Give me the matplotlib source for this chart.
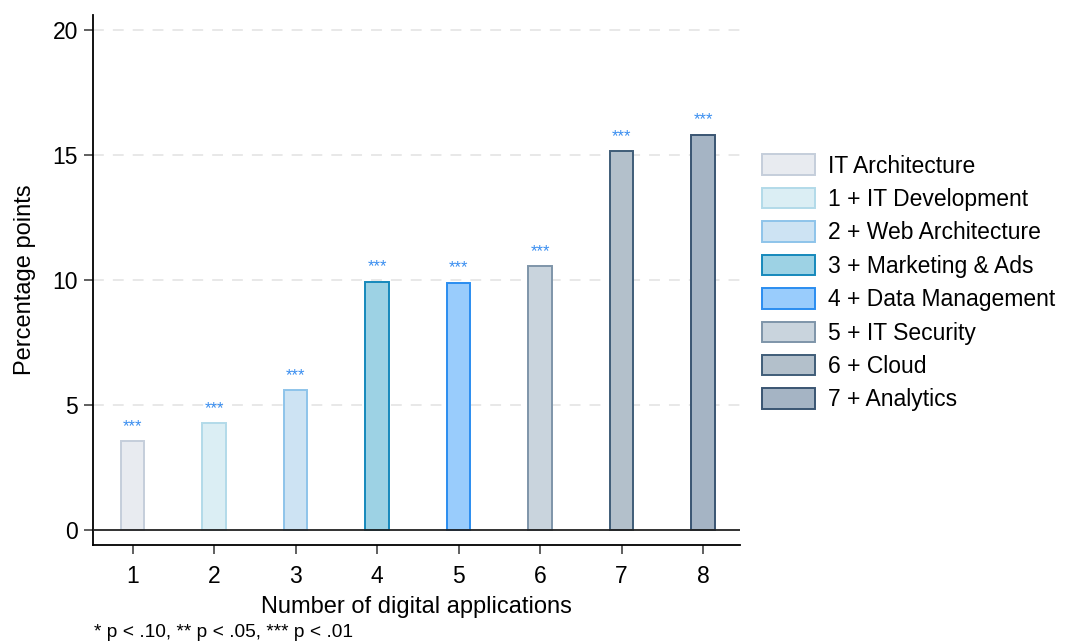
import numpy as np
import matplotlib.pyplot as plt
from matplotlib.patches import Patch

plt.rcParams['font.family'] = ['Liberation Sans', 'DejaVu Sans']

n_apps = [1, 2, 3, 4, 5, 6, 7, 8]
effect = [3.55, 4.27, 5.59, 9.92, 9.88, 10.55, 15.15, 15.80]
stars = ['***'] * 8
labels = ['IT Architecture', '1 + IT Development', '2 + Web Architecture',
          '3 + Marketing & Ads', '4 + Data Management', '5 + IT Security',
          '6 + Cloud', '7 + Analytics']
fills = ['#e8ebf0', '#dbeef4', '#cde3f3', '#9dd2e4', '#99ccfc', '#c9d4dd', '#b3c0cb', '#a5b4c4']
edges = ['#c5cedb', '#b2dae9', '#8ec4ea', '#1689bb', '#2a8df0', '#7e95a9', '#3f5d78', '#3a5572']

fig = plt.figure(figsize=(10.69, 6.44), dpi=100)
ax = fig.add_axes([0.0867, 0.1537, 0.6053, 0.823])

ax.bar(n_apps, effect, width=0.29, color=fills, edgecolor=edges, linewidth=1.4, zorder=3)
for x, v, s in zip(n_apps, effect, stars):
    ax.text(x, v + 0.3, s, ha='center', va='bottom', fontsize=12, color='#3a8ef0', zorder=4)

ax.axhline(0, color='#222222', linewidth=1.3, zorder=4)
ax.set_xlim(0.51, 8.45)
ax.set_ylim(-0.6, 20.6)
ax.set_yticks([0, 5, 10, 15, 20])
ax.set_xticks(n_apps)
for yv in [5, 10, 15, 20]:
    ax.axhline(yv, color='#e6e6e6', linewidth=1.3, dashes=(6, 5), zorder=1)

ax.spines['top'].set_visible(False)
ax.spines['right'].set_visible(False)
ax.spines['left'].set_linewidth(1.3)
ax.spines['bottom'].set_linewidth(1.3)
ax.tick_params(axis='both', labelsize=16.5, width=1.2, length=6.5, color='#444444', pad=4)
ax.tick_params(axis='x', pad=8)
ax.set_xlabel('Number of digital applications', fontsize=17, labelpad=6)
ax.set_ylabel('Percentage points', fontsize=17, labelpad=12)

handles = [Patch(facecolor=f, edgecolor=e, linewidth=1.4) for f, e in zip(fills, edges)]
fig.legend(handles, labels, loc='upper left', bbox_to_anchor=(0.702, 0.778), frameon=False,
           borderpad=0, fontsize=16.5, handlelength=2.3, handleheight=1.0,
           labelspacing=0.45, handletextpad=0.6)

fig.text(0.088, 0.005, '* p < .10, ** p < .05, *** p < .01', fontsize=13.8, va='bottom')

fig.savefig('out.png', dpi=100)
